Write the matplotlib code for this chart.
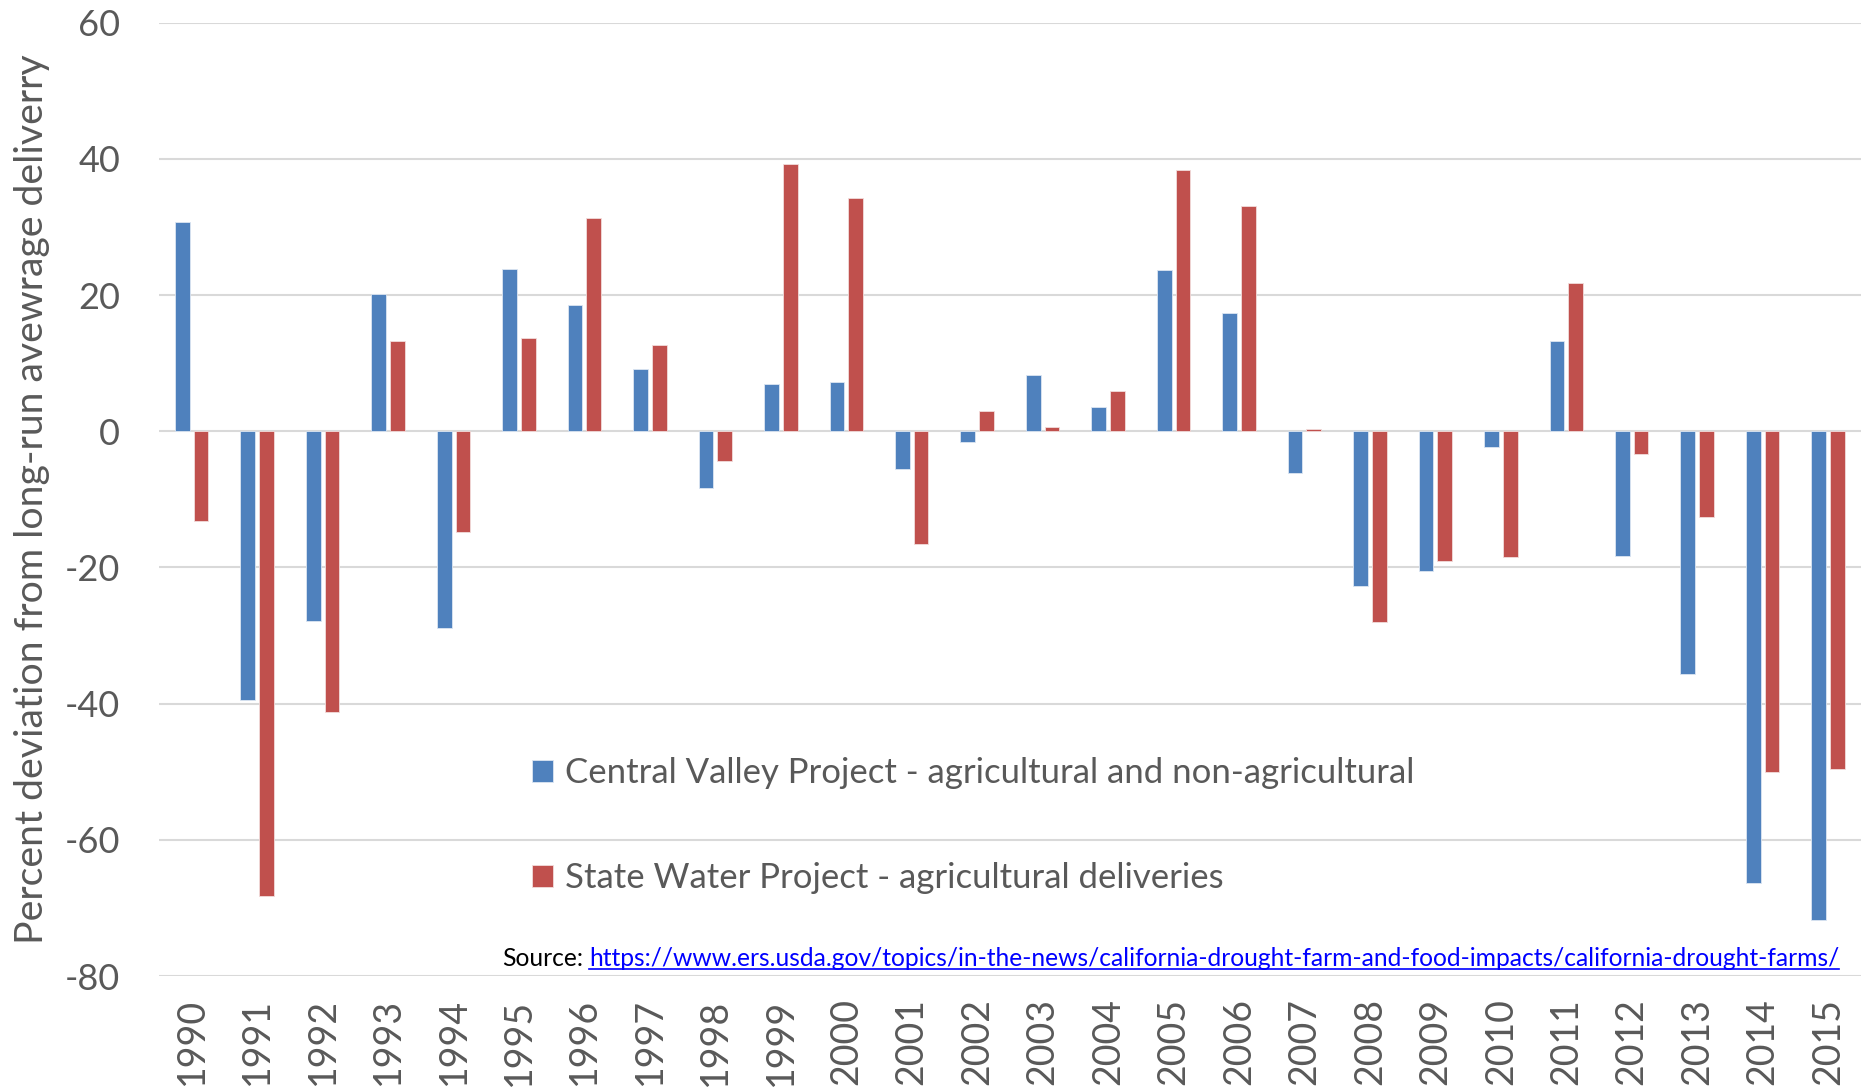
import numpy as np
import matplotlib
matplotlib.use("Agg")
from matplotlib import pyplot as plt
from matplotlib.lines import Line2D

plt.rcParams['font.family'] = ['Lato', 'DejaVu Sans']

years = [str(y) for y in range(1990, 2016)]
cvp = [30.7, -39.5, -27.8, 20.2, -28.9, 23.8, 18.5, 9.1, -8.3, 7.0, 7.2, -5.6, -1.6,
       8.3, 3.6, 23.7, 17.3, -6.1, -22.7, -20.5, -2.3, 13.2, -18.3, -35.7, -66.3, -71.7]
swp = [-13.2, -68.3, -41.3, 13.3, -14.75, 13.75, 31.3, 12.6, -4.4, 39.3, 34.3, -16.6, 2.9,
       0.6, 5.9, 38.4, 33.0, 0.3, -28.0, -19.1, -18.5, 21.7, -3.3, -12.6, -50.0, -49.6]
labels = ['Central Valley Project - agricultural and non-agricultural',
          'State Water Project - agricultural deliveries']
yticks = [60, 40, 20, 0, -20, -40, -60, -80]

blue = '#4F81BD'
red = '#C0504D'
grey = '#595959'

fig = plt.figure(figsize=(18.64, 10.92), dpi=100)
ax = fig.add_axes([0.0853, 0.1062, 0.913, 0.8731])

x = np.arange(len(years))
w = 0.225
ax.bar(x - 0.143, cvp, w, color=blue, edgecolor='#dce6f2', linewidth=0.6, label=labels[0], zorder=3)
ax.bar(x + 0.143, swp, w, color=red, edgecolor='#f2dcdb', linewidth=0.6, label=labels[1], zorder=3)

ax.set_xlim(-0.5, len(years) - 0.5)
ax.set_ylim(-80, 60)
ax.set_yticks(yticks)
ax.set_yticklabels([str(t) for t in yticks])
ax.set_xticks(x)
ax.set_xticklabels(years, rotation=90)
ax.grid(axis='y', color='#D9D9D9', linewidth=1.5, zorder=0)
ax.set_axisbelow(True)
for s in ax.spines.values():
    s.set_visible(False)
ax.tick_params(axis='both', length=0, labelsize=26, colors=grey)
ax.tick_params(axis='x', labelsize=27)
ax.tick_params(axis='y', pad=28)
ax.tick_params(axis='x', pad=16)

fig.text(32 / 1864, 0.543, 'Percent deviation from long-run avewrage deliverry',
         rotation=90, ha='center', va='center', fontsize=28.3, color=grey)

leg = ax.legend(loc='upper left', bbox_to_anchor=(532 / 1864, 1 - 757 / 1092),
                bbox_transform=fig.transFigure, frameon=False, fontsize=25,
                handlelength=0.6, handleheight=0.6, handletextpad=0.35,
                labelspacing=2.1, borderaxespad=0, borderpad=0)
for t in leg.get_texts():
    t.set_color(grey)

# source line with a hyperlink look
url = 'https://www.ers.usda.gov/topics/in-the-news/california-drought-farm-and-food-impacts/california-drought-farms/'
src_y = 1 - 958 / 1092
link = fig.text(589 / 1864, src_y, url, ha='left', va='center', fontsize=17.7, color='#0000FF')
fig.text(583 / 1864, src_y, 'Source:', ha='right', va='center', fontsize=17.7, color='black')

fig.canvas.draw()
bb = link.get_window_extent()
uy = (bb.y0 + 1) / fig.bbox.height
fig.add_artist(Line2D([bb.x0 / fig.bbox.width, bb.x1 / fig.bbox.width], [uy, uy],
                      transform=fig.transFigure, color='#0000FF', linewidth=1.2))

fig.savefig('out.png', dpi=100)
